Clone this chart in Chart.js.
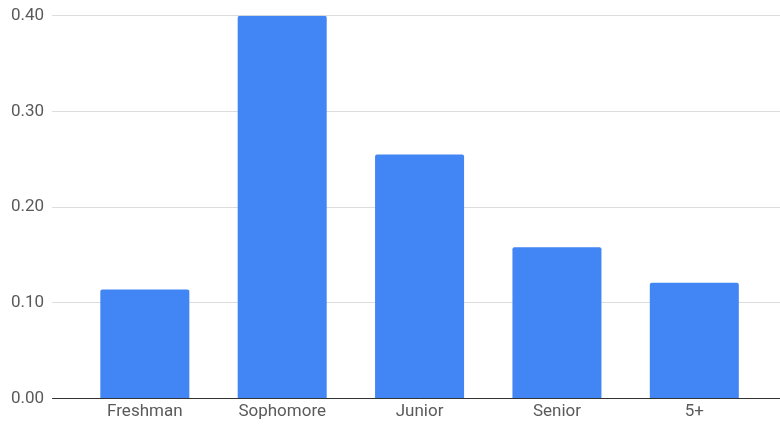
<!DOCTYPE html>
<html>
<head>
<meta charset="utf-8">
<script src="https://cdn.jsdelivr.net/npm/chart.js@4"></script>
<style>
  html, body { margin: 0; padding: 0; background: #fff; }
  #wrap { width: 780px; height: 425px; }
</style>
</head>
<body>
<div id="wrap"><canvas id="barChart"></canvas></div>
<script>
const categories = ['Freshman', 'Sophomore', 'Junior', 'Senior', '5+'];
const shares = [0.114, 0.400, 0.255, 0.158, 0.121];
const yTicks = [0, 0.1, 0.2, 0.3, 0.4];

Chart.defaults.font.family = 'Roboto, Arial, sans-serif';
Chart.defaults.font.size = 17;
Chart.defaults.color = '#5a5a5a';

const gridColor = function(ctx) {
    return ctx.tick && ctx.tick.value === 0 ? '#333' : '#dcdcdc';
};

const ctx = document.getElementById('barChart').getContext('2d');
const barChart = new Chart(ctx, {
    type: 'bar',
    data: {
        labels: categories,
        datasets: [{
            data: shares,
            backgroundColor: '#4285F4',
            borderRadius: 2,
            borderSkipped: 'bottom',
            barPercentage: 0.648,
            categoryPercentage: 1.0
        }]
    },
    options: {
        responsive: true,
        maintainAspectRatio: false,
        animation: false,
        layout: {
            padding: { left: 3, top: 0, right: 0, bottom: 0 }
        },
        scales: {
            x: {
                grid: { display: false, drawTicks: false },
                border: { display: false },
                ticks: { padding: 3 }
            },
            y: {
                min: 0,
                max: 0.4,
                afterBuildTicks: function(scale) {
                    scale.ticks = yTicks.map(v => ({ value: v }));
                },
                grid: { color: gridColor, tickColor: gridColor, tickLength: 24, lineWidth: 1 },
                border: { display: false },
                ticks: {
                    padding: 8,
                    font: { lineHeight: 0.9 },
                    callback: function(v) { return Number(v).toFixed(2); }
                }
            },
            y2: {
                position: 'right',
                min: 0,
                max: 0.4,
                afterBuildTicks: function(scale) {
                    scale.ticks = yTicks.map(v => ({ value: v }));
                },
                grid: { color: gridColor, tickColor: gridColor, tickLength: 17 },
                border: { display: false },
                ticks: { display: false }
            }
        },
        plugins: {
            legend: { display: false },
            tooltip: { enabled: false }
        }
    }
});
</script>
</body>
</html>
